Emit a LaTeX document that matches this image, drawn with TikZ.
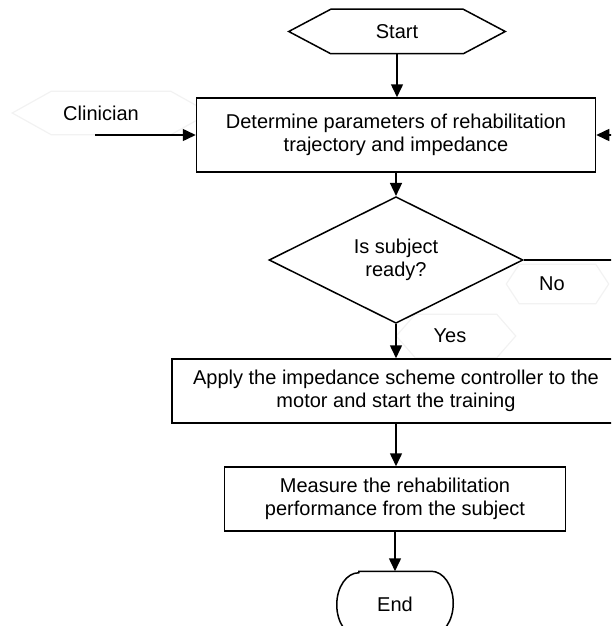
\documentclass[tikz,border=0pt]{standalone}
\usepackage{fontspec}
\setmainfont{Liberation Sans}
\usetikzlibrary{shapes.geometric,arrows.meta,calc}
\newcommand\myhex[3]{\draw[#3] (#1.west) -- ($(#1.north west)+(#2,0)$) -- ($(#1.north east)+(-#2,0)$) -- (#1.east) -- ($(#1.south east)+(-#2,0)$) -- ($(#1.south west)+(#2,0)$) -- cycle;}
\begin{document}
\begin{tikzpicture}[x=1pt,y=-1pt,line width=1.5pt,
  every node/.style={font=\fontsize{20}{23.5}\selectfont, inner sep=0pt, align=center},
  arr/.style={-{Triangle[length=13pt,width=12pt]}},
  faint/.style={draw=black!5, line width=1.2pt},
  stepbox/.style={draw, fill=white, rectangle}]
\useasboundingbox (0,0) rectangle (611,626);
\clip (0,0) rectangle (611,626);
% faint label hexagons
\node[minimum width=196pt, minimum height=42pt] (clin) at (111,113) {\hspace*{-20pt}Clinician};
\myhex{clin}{39}{faint}
\node[minimum width=101pt, minimum height=38pt] (no) at (557.5,284) {\hspace*{-11pt}No};
\myhex{no}{13}{faint}
\node[minimum width=118pt, minimum height=42pt] (yes) at (456,336) {\hspace*{-12pt}Yes};
\myhex{yes}{19}{faint}
% start
\node[minimum width=215pt, minimum height=43pt] (start) at (397,31.5) {Start};
\myhex{start}{42}{draw=black}
% boxes
\node[stepbox, minimum width=399pt, minimum height=74pt] (b1) at (396,135) {Determine parameters of rehabilitation\\trajectory and impedance};
\node[draw, diamond, minimum width=254pt, minimum height=110pt] (dia) at (396,260) {Is subject\\ready?};
\node[stepbox, minimum width=448pt, minimum height=64pt] (b2) at (396,391) {Apply the impedance scheme controller to the\\motor and start the training};
\node[stepbox, minimum width=341pt, minimum height=64pt] (b3) at (395,499) {Measure the rehabilitation\\performance from the subject};
% end terminator
\node[minimum width=115pt, minimum height=64pt] (end) at (395,604) {End};
\draw ($(end.north west)+(22,0)$) -- ($(end.north east)+(-22,0)$)
  arc[start angle=90, end angle=-90, x radius=22pt, y radius=32pt]
  -- ($(end.south west)+(22,0)$)
  arc[start angle=270, end angle=90, x radius=22pt, y radius=32pt] -- cycle;
% connectors
\draw[arr] (start.south) -- (start.south |- b1.north);
\draw[arr] (b1.south) -- (b1.south |- dia.north);
\draw[arr] (dia.south) -- (dia.south |- b2.north);
\draw[arr] (b2.south) -- (b2.south |- b3.north);
\draw[arr] (b3.south) -- (b3.south |- end.north);
\coordinate (cin) at (95,135);
\draw[arr] (cin) -- (b1.west);
\coordinate (rin) at (625,135);
\draw[arr] (rin) -- (b1.east);
\coordinate (nout) at (625,260);
\draw (dia.east) -- (nout);
\end{tikzpicture}
\end{document}
